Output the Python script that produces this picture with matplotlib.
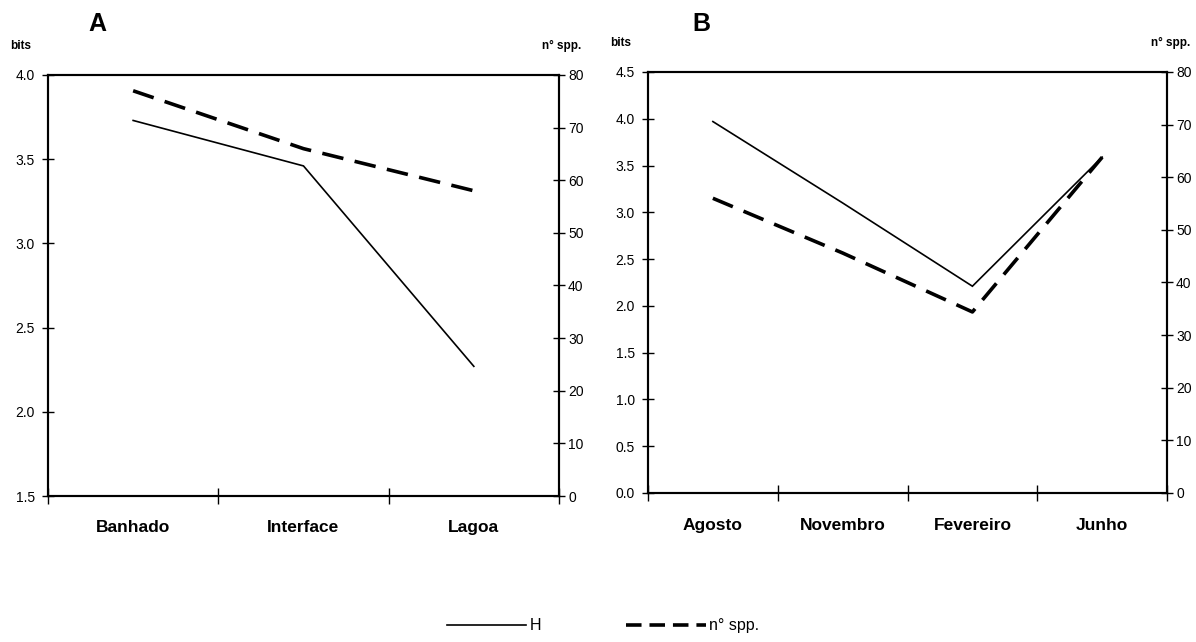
import matplotlib
matplotlib.use("Agg")
import matplotlib.pyplot as plt
from matplotlib.lines import Line2D

plt.rcParams['font.family'] = ['Liberation Sans', 'DejaVu Sans']

# Panel A data
cats_a = ["Banhado", "Interface", "Lagoa"]
h_a = [3.73, 3.46, 2.27]
spp_a = [77, 66, 58]

# Panel B data
cats_b = ["Agosto", "Novembro", "Fevereiro", "Junho"]
h_b = [3.97, 3.10, 2.21, 3.59]
spp_b = [56, 45.6, 34.4, 63.8]

ylim_a = (1.5, 4.0)
yticks_a = [1.5, 2.0, 2.5, 3.0, 3.5, 4.0]
ylim_b = (0.0, 4.5)
yticks_b = [0.0, 0.5, 1.0, 1.5, 2.0, 2.5, 3.0, 3.5, 4.0, 4.5]
rticks = [0, 10, 20, 30, 40, 50, 60, 70, 80]

fig = plt.figure(figsize=(11.96, 6.42), dpi=100)

def panel(rect, cats, h, spp, ylim, yticks, letter, letter_x, catpad):
    ax = fig.add_axes(rect)
    n = len(cats)
    x = list(range(n))
    ax.plot(x, h, color='black', lw=1.2, solid_joinstyle='miter')
    ax.set_xlim(-0.5, n - 0.5)
    ax.set_ylim(*ylim)
    ax.set_yticks(yticks)
    ax.set_yticklabels([f"{v:.1f}" for v in yticks])
    ax.set_xticks([i - 0.5 for i in range(n + 1)])
    ax.set_xticklabels([])
    ax.set_xticks(x, minor=True)
    ax.set_xticklabels(cats, minor=True, fontsize=12.5, fontweight='bold')
    ax.tick_params(axis='x', which='minor', length=0, pad=catpad)
    ax.tick_params(axis='x', which='major', direction='inout', length=12, width=1)
    ax.tick_params(axis='y', direction='inout', length=9, width=1, labelsize=10, pad=5, colors='black')
    for s in ax.spines.values():
        s.set_linewidth(1.5)
    ax2 = ax.twinx()
    ax2.plot(x, spp, color='black', lw=2.6, dashes=(6.0, 3.2))
    ax2.set_ylim(0, 80)
    ax2.set_yticks(rticks)
    ax2.tick_params(axis='y', direction='inout', length=9, width=1, labelsize=10, pad=2)
    for s in ax2.spines.values():
        s.set_linewidth(1.5)
    fig.text(rect[0] - 0.032, rect[1] + rect[3] + 0.045, "bits", fontsize=8.5, fontweight='bold', ha='left', va='center')
    fig.text(rect[0] + rect[2] + 0.019, rect[1] + rect[3] + 0.045, "n° spp.", fontsize=8.5, fontweight='bold', ha='right', va='center')
    fig.text(letter_x, 0.963, letter, fontsize=18, fontweight='bold', ha='left', va='center')
    return ax

panel([0.0401, 0.2274, 0.4273, 0.6558], cats_a, h_a, spp_a, ylim_a, yticks_a, "A", 0.074, 17.5)
panel([0.5418, 0.2321, 0.4340, 0.6558], cats_b, h_b, spp_b, ylim_b, yticks_b, "B", 0.579, 18)

handles = [Line2D([0], [0], color='black', lw=1.2),
           Line2D([0], [0], color='black', lw=2.6, dashes=(4.3, 2.2))]
fig.legend(handles, ["H", "n° spp."], loc='center', bbox_to_anchor=(0.504, 0.025),
           ncol=2, frameon=False, handlelength=5.0, handletextpad=0.2,
           columnspacing=5.3, fontsize=11.5)

fig.savefig("out.png", dpi=100)
